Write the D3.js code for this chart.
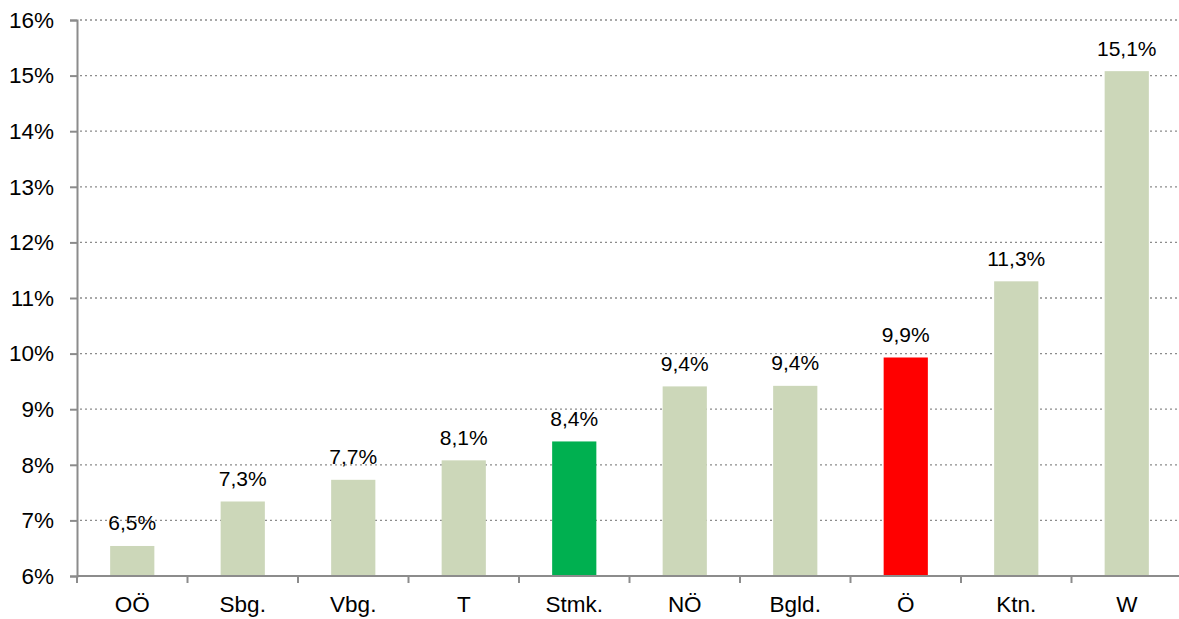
<!doctype html>
<html>
<head>
<meta charset="utf-8">
<title>Bundesländer</title>
<style>
  body { margin: 0; background: #fff; overflow: hidden; }
  text { font-family: "Liberation Sans", Arial, sans-serif; fill: #000; }
</style>
</head>
<body>
<div id="chart"></div>
<script src="https://d3js.org/d3.v7.min.js"></script>
<script>
var categories = ["OÖ", "Sbg.", "Vbg.", "T", "Stmk.", "NÖ", "Bgld.", "Ö", "Ktn.", "W"];
var values = [6.54, 7.34, 7.73, 8.08, 8.42, 9.41, 9.42, 9.93, 11.3, 15.08];
var labels = ["6,5%", "7,3%", "7,7%", "8,1%", "8,4%", "9,4%", "9,4%", "9,9%", "11,3%", "15,1%"];
var colors = ["#ccd7b9", "#ccd7b9", "#ccd7b9", "#ccd7b9", "#00b050", "#ccd7b9", "#ccd7b9", "#ff0000", "#ccd7b9", "#ccd7b9"];
var yTicks = [6, 7, 8, 9, 10, 11, 12, 13, 14, 15, 16];

var W = 1179, H = 619;
var plotLeft = 77, plotRight = 1182, plotTop = 20, plotBottom = 576;

var svg = d3.select("#chart").append("svg").attr("width", W).attr("height", H);

var x = d3.scaleBand().domain(categories).range([plotLeft, plotRight]).paddingInner(0.6).paddingOuter(0.3);
var band = (plotRight - plotLeft) / categories.length;
var y = d3.scaleLinear().domain([6, 16]).range([plotBottom, plotTop]);

// gridlines
svg.append("g").selectAll("line").data(yTicks.slice(1)).enter().append("line")
  .attr("x1", plotLeft + 3).attr("x2", W)
  .attr("y1", function(d) { return y(d); }).attr("y2", function(d) { return y(d); })
  .attr("stroke", "#8c8c8c").attr("stroke-width", 1.3).attr("stroke-dasharray", "2,3");

// bars
svg.append("g").selectAll("rect").data(values).enter().append("rect")
  .attr("x", function(d, i) { return x(categories[i]); })
  .attr("width", x.bandwidth())
  .attr("y", function(d) { return y(d); })
  .attr("height", function(d) { return plotBottom - y(d); })
  .attr("fill", function(d, i) { return colors[i]; });

// value labels
svg.append("g").selectAll("text").data(values).enter().append("text")
  .attr("x", function(d, i) { return x(categories[i]) + x.bandwidth() / 2; })
  .attr("y", function(d) { return y(d) - 15.5; })
  .attr("text-anchor", "middle").attr("font-size", 21)
  .text(function(d, i) { return labels[i]; });

// y axis
var yAxis = d3.axisLeft(y).tickValues(yTicks).tickSize(7).tickPadding(16)
  .tickFormat(function(d) { return d + "%"; });
var gy = svg.append("g").attr("transform", "translate(" + plotLeft + ",0)").call(yAxis);
gy.select(".domain").attr("stroke", "#8c8c8c").attr("stroke-width", 2);
gy.selectAll(".tick line").attr("stroke", "#8c8c8c").attr("stroke-width", 2);
gy.selectAll(".tick text").attr("font-size", 22.5).attr("font-family", "Liberation Sans, Arial, sans-serif").attr("fill", "#000");

// x axis
var gx = svg.append("g").attr("transform", "translate(0," + plotBottom + ")");
gx.append("line").attr("x1", plotLeft).attr("x2", W).attr("y1", 0).attr("y2", 0)
  .attr("stroke", "#8c8c8c").attr("stroke-width", 2);
gx.selectAll(".tk").data(d3.range(categories.length + 1)).enter().append("line")
  .attr("class", "tk")
  .attr("x1", function(i) { return plotLeft + i * band; }).attr("x2", function(i) { return plotLeft + i * band; })
  .attr("y1", 0).attr("y2", 7).attr("stroke", "#8c8c8c").attr("stroke-width", 2);
gx.selectAll("text").data(categories).enter().append("text")
  .attr("x", function(d) { return x(d) + x.bandwidth() / 2; })
  .attr("y", 36).attr("text-anchor", "middle").attr("font-size", 22.5)
  .text(function(d) { return d; });
</script>
</body>
</html>
